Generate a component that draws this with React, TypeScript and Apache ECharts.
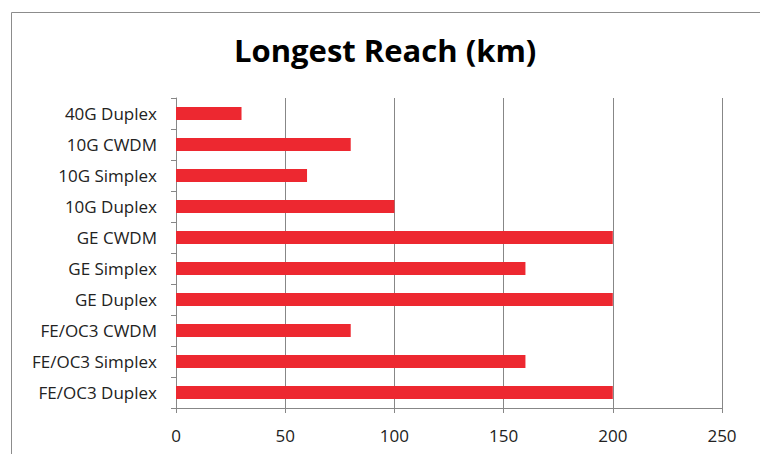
import React, { useEffect, useRef } from "react";
import * as echarts from "echarts";

const categories = [
  "40G Duplex",
  "10G CWDM",
  "10G Simplex",
  "10G Duplex",
  "GE CWDM",
  "GE Simplex",
  "GE Duplex",
  "FE/OC3 CWDM",
  "FE/OC3 Simplex",
  "FE/OC3 Duplex",
];
const reachKm = [30, 80, 60, 100, 200, 160, 200, 80, 160, 200];
const xTicks = { min: 0, max: 250, interval: 50 };
const titleText = "Longest Reach (km)";

export default function App() {
  const ref = useRef<HTMLDivElement>(null);
  useEffect(() => {
    if (!ref.current) return;
    const chart = echarts.init(ref.current, null, { renderer: "svg" });
    const axisGray = "#878787";
    chart.setOption({
      animation: false,
      backgroundColor: "#ffffff",
      title: {
        text: titleText,
        left: 229,
        top: 29,
        textStyle: {
          fontFamily: "Open Sans",
          fontWeight: "bold",
          fontSize: 31,
          color: "#000000",
        },
      },
      graphic: [
        {
          type: "rect",
          shape: { x: 11.5, y: 12.5, width: 800, height: 500 },
          style: { fill: "none", stroke: "#8c8c8c", lineWidth: 1 },
          silent: true,
        },
      ],
      grid: { left: 176, right: 38, top: 98, bottom: 46, containLabel: false },
      xAxis: {
        type: "value",
        min: xTicks.min,
        max: xTicks.max,
        interval: xTicks.interval,
        axisLine: { show: true, lineStyle: { color: axisGray, width: 1 } },
        axisTick: { show: true, length: 5, lineStyle: { color: axisGray } },
        splitLine: { show: true, lineStyle: { color: axisGray, width: 1 } },
        axisLabel: {
          margin: 19,
          fontFamily: "Open Sans",
          fontSize: 17,
          color: "#222222",
        },
      },
      yAxis: {
        type: "category",
        data: categories,
        inverse: true,
        axisLine: { show: true, lineStyle: { color: axisGray, width: 1 } },
        axisTick: { show: true, length: 5, lineStyle: { color: axisGray } },
        axisLabel: {
          margin: 19,
          fontFamily: "Open Sans",
          fontSize: 17,
          color: "#222222",
        },
      },
      series: [
        {
          type: "bar",
          data: reachKm,
          barWidth: 13,
          itemStyle: { color: "#ED2830" },
        },
      ],
    });
    return () => chart.dispose();
  }, []);
  return (
    <div
      ref={ref}
      style={{ position: "fixed", left: 0, top: 0, width: 760, height: 454 }}
    />
  );
}
